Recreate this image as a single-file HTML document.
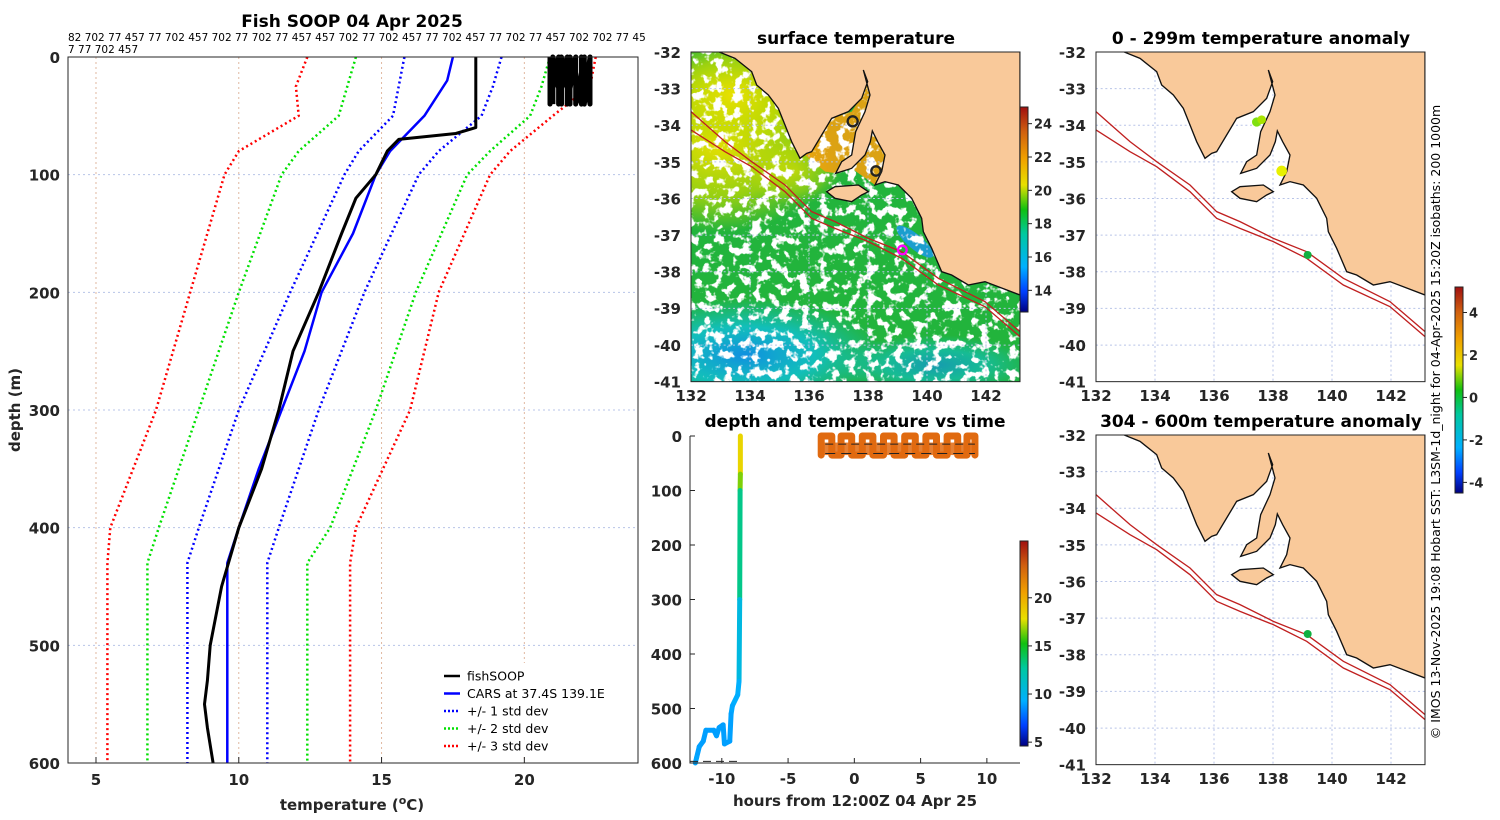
<!DOCTYPE html>
<html><head><meta charset="utf-8"><style>
body{margin:0;background:#fff}
svg{display:block;font-family:"DejaVu Sans","Liberation Sans",sans-serif}
.tk{font-size:15px;font-weight:bold;fill:#262626}
.ttl{font-size:17px;font-weight:bold;fill:#000}
</style></head><body>
<svg id="s" width="1500" height="820" viewBox="0 0 1500 820" xmlns="http://www.w3.org/2000/svg">
<defs>
<linearGradient id="cmap" x1="0" y1="1" x2="0" y2="0">
<stop offset="0" stop-color="#000080"/><stop offset="0.1" stop-color="#0040ff"/><stop offset="0.22" stop-color="#00b0ff"/><stop offset="0.38" stop-color="#00c8a0"/><stop offset="0.5" stop-color="#10c010"/><stop offset="0.62" stop-color="#e8e000"/><stop offset="0.75" stop-color="#f0a000"/><stop offset="0.88" stop-color="#d06010"/><stop offset="1" stop-color="#a01010"/>
</linearGradient>
<radialGradient id="yel" cx="0.5" cy="0.5" r="0.5"><stop offset="0" stop-color="#e8e000"/><stop offset="0.6" stop-color="#c8dc00" stop-opacity="0.7"/><stop offset="1" stop-color="#c8dc00" stop-opacity="0"/></radialGradient>
<radialGradient id="cya" cx="0.5" cy="0.5" r="0.5"><stop offset="0" stop-color="#1090e0"/><stop offset="0.5" stop-color="#10c0c8" stop-opacity="0.9"/><stop offset="1" stop-color="#10c0c8" stop-opacity="0"/></radialGradient>
<filter id="speck" x="0" y="0" width="1" height="1">
<feTurbulence type="fractalNoise" baseFrequency="0.035" numOctaves="3" seed="7" result="n"/>
<feColorMatrix in="n" type="matrix" values="0 0 0 0 1  0 0 0 0 1  0 0 0 0 1  0 10 0 0 -5.3" />
</filter>
<clipPath id="mclip"><rect x="18" y="21" width="987" height="989"/></clipPath>
<path id="land" d="M100,20 L150,40 L200,80 L215,120 L250,150 L280,190 L300,240 L320,290 L345,340 L365,325 L380,320 L410,270 L440,220 L490,200 L530,160 L548,110 L535,75 L555,150 L540,200 L512,260 L500,330 L470,350 L452,385 L500,370 L540,330 L556,290 L562,258 L578,290 L600,330 L590,380 L570,420 L600,410 L640,420 L680,460 L710,520 L715,560 L740,610 L770,680 L800,690 L850,720 L900,710 L1005,750 L1005,20 Z"/>
<path id="ki" d="M425,440 L450,425 L520,420 L550,440 L530,450 L500,470 L450,460 Z"/>
<path id="iso1" d="M18,200 L120,290 L200,350 L300,420 L380,500 L450,530 L550,580 L650,620 L760,700 L900,770 L1005,860"/>
<path id="iso2" d="M18,255 L120,320 L200,365 L300,440 L380,520 L450,550 L550,590 L650,640 L760,720 L900,785 L1005,875"/>
</defs>
<g id="left"></g>
<g id="maps"></g>
<g id="tpanel"></g>
<text x="1440" y="422" transform="rotate(-90 1440 422)" text-anchor="middle" font-size="12.5" fill="#000">© IMOS 13-Nov-2025 19:08 Hobart SST: L3SM-1d_night for 04-Apr-2025 15:20Z isobaths: 200  1000m</text>
</svg>
<script>
// ---------- profile data ----------
const fishDepth=[0,60,65,70,80,100,120,150,200,250,300,350,400,450,500,530,550,570,600];
const fishTemp=[18.3,18.3,17.6,15.6,15.2,14.8,14.1,13.6,12.8,11.9,11.4,10.8,10.0,9.4,9.0,8.9,8.8,8.9,9.1];
const blobDepth=[0,40,0,40,0,40,0,40,0,40,0,40,0,40,0,40,0,40,0,40];
const blobTemp=[20.9,20.9,21.2,21.2,21.5,21.5,21.8,21.8,22.1,22.1,22.3,22.3,22.0,22.0,21.6,21.6,21.3,21.3,21.0,21.0];
const carsDepth=[0,20,50,80,100,150,200,250,300,350,400,430,600];
const carsTemp=[17.5,17.3,16.5,15.3,14.8,14.0,12.9,12.3,11.5,10.7,10.0,9.6,9.6];
const stdDepth=[0,25,50,80,100,200,300,400,430,600];
const s1lo=[15.8,15.6,15.4,14.2,13.7,11.8,10.0,8.6,8.2,8.2];
const s1hi=[19.2,18.9,18.5,17.0,16.3,14.4,12.8,11.4,11.0,11.0];
const s2lo=[14.1,13.8,13.5,12.1,11.5,10.0,8.6,7.2,6.8,6.8];
const s2hi=[20.9,20.6,20.2,18.8,18.0,16.2,14.8,13.2,12.4,12.4];
const s3lo=[12.4,12.0,12.1,10.0,9.5,8.3,7.1,5.5,5.4,5.4];
const s3hi=[22.5,22.3,21.0,19.5,18.8,17.0,16.0,14.1,13.9,13.9];
const tempTicks=[5,10,15,20];
const depthTicks=[0,100,200,300,400,500,600];
const idText1="82 702 77 457 77 702 457 702 77 702 77 457 457 702 77 702 457 77 702 457 77 702 77 457 702 702 77 45";
const idText2="7 77 702 457";
// ---------- time panel data ----------
const tHours=[-8.6,-8.6,-8.62,-8.65,-8.7,-8.8,-9.2,-9.3,-9.4,-9.8,-9.9,-10.2,-10.4,-10.6,-11.2,-11.4,-11.7,-11.9,-12.0];
const tDepth=[0,70,100,300,450,475,495,510,560,565,530,535,550,540,540,560,570,590,600];
const tTemp=[18.3,18.3,14.8,11.4,9.4,9.3,9.2,9.0,8.9,8.9,8.9,8.9,8.9,8.9,8.9,8.9,8.9,9.0,9.1];
const yoyoHours=[-2.5,-2.5,-1.7,-1.7,-1.0,-1.0,-0.2,-0.2,0.6,0.6,1.4,1.4,2.2,2.2,3.0,3.0,3.8,3.8,4.6,4.6,5.4,5.4,6.2,6.2,7.0,7.0,7.8,7.8,8.5,8.5,9.1,9.1];
const yoyoDepth=[35,0,0,35,35,0,0,35,35,0,0,35,35,0,0,35,35,0,0,35,35,0,0,35,35,0,0,35,35,0,0,35];
const hourTicks=[-10,-5,0,5,10];
const sstTicks=[14,16,18,20,22,24];
const tcTicks=[5,10,15,20];
const anTicks=[-4,-2,0,2,4];
const lonTicks=[132,134,136,138,140,142];
const latTicks=[-32,-33,-34,-35,-36,-37,-38,-39,-40,-41];

const NS="http://www.w3.org/2000/svg";
function mk(parent,tag,attrs,txt){const e=document.createElementNS(NS,tag);for(const k in attrs)e.setAttribute(k,attrs[k]);if(txt!==undefined)e.textContent=txt;parent.appendChild(e);return e;}

// ---------- left profile ----------
const L=document.getElementById('left');
const px0=68,px1=638,py0=57,py1=763,tmin=4.02,tmax=23.98;
const X=t=>px0+(t-tmin)/(tmax-tmin)*(px1-px0);
const Y=d=>py0+d/600*(py1-py0);
let e;
e=mk(L,'rect',{x:px0,y:py0,width:px1-px0,height:py1-py0,fill:'#fff',stroke:'none'});


tempTicks.forEach(t=>{e=mk(L,'line',{x1:X(t),x2:X(t),y1:py0,y2:py1,stroke:'#e0b8a0','stroke-width':1,'stroke-dasharray':'2 3'});


e=mk(L,'text',{x:X(t),y:py1+22,'text-anchor':'middle',class:'tk'},t);


mk(L,'line',{x1:X(t),x2:X(t),y1:py1,y2:py1-6,stroke:'#262626'});});
depthTicks.forEach(d=>{if(d>0&&d<600){e=mk(L,'line',{x1:px0,x2:px1,y1:Y(d),y2:Y(d),stroke:'#b8c4e8','stroke-width':1,'stroke-dasharray':'2 3'});

}
e=mk(L,'text',{x:px0-8,y:Y(d)+6,'text-anchor':'end',class:'tk'},d);

});
function line(ts,ds,col,w,dash,name){const pts=ts.map((t,i)=>X(t).toFixed(1)+','+Y(ds[i]).toFixed(1)).join(' ');
const a={points:pts,fill:'none',stroke:col,'stroke-width':w,'stroke-linejoin':'round'};if(dash)a['stroke-dasharray']=dash;
const p=mk(L,'polyline',a);

}
line(s3lo,stdDepth,'#ff0000',2.5,'2 3','std3-low-line');line(s3hi,stdDepth,'#ff0000',2.5,'2 3','std3-high-line');
line(s2lo,stdDepth,'#00e000',2.5,'2 3','std2-low-line');line(s2hi,stdDepth,'#00e000',2.5,'2 3','std2-high-line');
line(s1lo,stdDepth,'#0000ff',2.5,'2 3','std1-low-line');line(s1hi,stdDepth,'#0000ff',2.5,'2 3','std1-high-line');
line(carsTemp,carsDepth,'#0000ff',2.5,null,'cars-line');
line(fishTemp,fishDepth,'#000',3,null,'fishsoop-line');
line(blobTemp,blobDepth,'#000',5,null,'fishsoop-surface-casts');
e=mk(L,'rect',{x:px0,y:py0,width:px1-px0,height:py1-py0,fill:'none',stroke:'#262626','stroke-width':1});


e=mk(L,'text',{x:352,y:27,'text-anchor':'middle',class:'ttl'},'Fish SOOP 04 Apr 2025');


e=mk(L,'text',{x:68,y:41,'font-size':10.5,fill:'#000'},idText1);


e=mk(L,'text',{x:68,y:53,'font-size':10.5,fill:'#000'},idText2);


e=mk(L,'text',{x:20,y:410,transform:'rotate(-90 20 410)','text-anchor':'middle',class:'tk','font-size':16},'depth (m)');


e=mk(L,'text',{x:352,y:810,'text-anchor':'middle',class:'tk','font-size':16});


e.innerHTML='temperature (<tspan dy="-6" font-size="11">o</tspan><tspan dy="6">C)</tspan>';
// legend
const leg=mk(L,'g',{});


mk(leg,'rect',{x:438,y:663,width:188,height:94,fill:'#fff',stroke:'none'});
[['fishSOOP','#000',null],['CARS at 37.4S 139.1E','#0000ff',null],['+/- 1 std dev','#0000ff','2 2'],['+/- 2 std dev','#00e000','2 2'],['+/- 3 std dev','#ff0000','2 2']].forEach((r,i)=>{
 const y=676+i*17.5;const a={x1:444,x2:460,y1:y,y2:y,stroke:r[1],'stroke-width':2.5};if(r[2])a['stroke-dasharray']=r[2];
 const g=mk(leg,'g',{});
 
 
 mk(g,'line',a);mk(g,'text',{x:467,y:y+4.5,'font-size':12.5,fill:'#000'},r[0]);});

// ---------- maps ----------
const M=document.getElementById('maps');
function mapPanel(ox,oy,frameX,frameY,kind,title,name){
 const g=mk(M,'g',{});
 
 
 const inner=mk(g,'g',{transform:`translate(${ox},${oy}) scale(0.33333)`});
 const c=mk(inner,'g',{'clip-path':'url(#mclip)'});
 if(kind==='sst'){
  mk(c,'rect',{x:18,y:21,width:987,height:989,fill:'#22b43c'});
  mk(c,'ellipse',{cx:100,cy:300,rx:360,ry:260,fill:'url(#yel)'});
  mk(c,'ellipse',{cx:140,cy:150,rx:250,ry:180,fill:'url(#yel)'});
  mk(c,'ellipse',{cx:330,cy:380,rx:140,ry:100,fill:'url(#yel)',opacity:0.6});
  mk(c,'ellipse',{cx:180,cy:930,rx:420,ry:170,fill:'url(#cya)'});
  mk(c,'ellipse',{cx:750,cy:960,rx:300,ry:90,fill:'url(#cya)',opacity:0.7});
  mk(c,'ellipse',{cx:690,cy:590,rx:70,ry:22,transform:'rotate(40 690 590)',fill:'#1a9ae8',opacity:0.85});
  mk(c,'path',{d:'M360,330 L440,220 L500,200 L540,140 L535,75 L555,150 L540,200 L520,260 L505,330 L470,350 L455,385 L420,380 Z',fill:'#f0a010',opacity:0.9});
  mk(c,'path',{d:'M500,370 L540,330 L562,258 L580,290 L600,330 L590,380 L570,420 Z',fill:'#f0a010',opacity:0.9});
  mk(c,'rect',{x:18,y:21,width:987,height:989,fill:'#fff',filter:'url(#speck)'});
 }
 latTicks.forEach((la,i)=>{const y=21+i*109.9;if(i>0&&i<9)mk(c,'line',{x1:18,x2:1005,y1:y,y2:y,stroke:'#b8c4e8','stroke-width':3,'stroke-dasharray':'6 8'});});
 lonTicks.forEach((lo,i)=>{const x=18+(lo-132)*88.5;if(i>0)mk(c,'line',{x1:x,x2:x,y1:21,y2:1010,stroke:'#b8c4e8','stroke-width':3,'stroke-dasharray':'6 8'});});
 mk(c,'use',{href:'#land',fill:'#f9c99a',stroke:'#111','stroke-width':4});
 mk(c,'use',{href:'#ki',fill:'#f9c99a',stroke:'#111','stroke-width':4});
 mk(c,'use',{href:'#iso1',fill:'none',stroke:'#c02020','stroke-width':4});
 mk(c,'use',{href:'#iso2',fill:'none',stroke:'#c02020','stroke-width':4});
 if(kind==='sst'){
  mk(c,'circle',{cx:503,cy:229,r:15,fill:'none',stroke:'#222','stroke-width':7});
  mk(c,'circle',{cx:573,cy:378,r:14,fill:'none',stroke:'#222','stroke-width':7});
  mk(c,'circle',{cx:652,cy:615,r:13,fill:'none',stroke:'#ff00ff','stroke-width':7});
 } else if(kind==='a1'){
  mk(c,'circle',{cx:500,cy:231,r:14,fill:'#80e010'});
  mk(c,'circle',{cx:515,cy:224,r:13,fill:'#a8e400'});
  mk(c,'circle',{cx:575,cy:378,r:16,fill:'#e8f000'});
  mk(c,'circle',{cx:653,cy:630,r:12,fill:'#10b040'});
 } else {
  mk(c,'circle',{cx:653,cy:618,r:12,fill:'#10b040'});
 }
 mk(inner,'rect',{x:18,y:21,width:987,height:989,fill:'none',stroke:'#262626','stroke-width':3});
 const fx=frameX,fy=frameY;
 lonTicks.forEach(lo=>{const x=fx+(lo-132)*29.5;
  e=mk(g,'text',{x:x,y:fy+329+20,'text-anchor':'middle',class:'tk'},lo);
  
  });
 latTicks.forEach((la,i)=>{
  e=mk(g,'text',{x:fx-10,y:fy+i*36.6+6,'text-anchor':'end',class:'tk'},la);
  
  });
 e=mk(g,'text',{x:fx+165,y:fy-8,'text-anchor':'middle',class:'ttl'},title);
 
 
}
mapPanel(685,45,691,52,'sst','surface temperature','sst-map');
mapPanel(1090,45,1096,52,'a1','0 - 299m temperature anomaly','anomaly-map-shallow');
mapPanel(1090,428,1096,435,'a2','304 - 600m temperature anomaly','anomaly-map-deep');

function cbar(x,y,h,ticks,vmin,vmax,name){
 const g=mk(M,'g',{});
 
 
 mk(g,'rect',{x:x,y:y,width:8,height:h,fill:'url(#cmap)',stroke:'#222','stroke-width':1});
 ticks.forEach(t=>{const yy=y+h-(t-vmin)/(vmax-vmin)*h;mk(g,'line',{x1:x+8,x2:x+12,y1:yy,y2:yy,stroke:'#222'});
  e=mk(g,'text',{x:x+14,y:yy+5,'font-size':13,'font-weight':'bold',fill:'#262626'},t);
  
  });
}
cbar(1020,107,205,sstTicks,12.7,25.0,'sst-colorbar');
cbar(1455,287,206,anTicks,-4.5,5.2,'anomaly-colorbar');
cbar(1020,541,205,tcTicks,4.6,25.9,'time-temp-colorbar');

// ---------- time panel ----------
const T=document.getElementById('tpanel');
const tx0=690,tx1=1020,ty0=436,ty1=763,hmin=-12.4,hmax=12.5;
const HX=h=>tx0+(h-hmin)/(hmax-hmin)*(tx1-tx0);
const DY=d=>ty0+d/600*(ty1-ty0);
const stops=[[0,[0,0,128]],[0.1,[0,64,255]],[0.22,[0,176,255]],[0.38,[0,200,160]],[0.5,[16,192,16]],[0.62,[232,224,0]],[0.75,[240,160,0]],[0.88,[208,96,16]],[1,[160,16,16]]];
function cm(t){let f=(t-4.6)/(25.9-4.6);f=Math.max(0,Math.min(1,f));for(let i=1;i<stops.length;i++){if(f<=stops[i][0]){const a=stops[i-1],b=stops[i],u=(f-a[0])/(b[0]-a[0]);return 'rgb('+a[1].map((v,k)=>Math.round(v+(b[1][k]-v)*u)).join(',')+')';}}return 'rgb(160,16,16)';}
for(let i=0;i<tHours.length-1;i++){
 e=mk(T,'line',{x1:HX(tHours[i]),y1:DY(tDepth[i]),x2:HX(tHours[i+1]),y2:DY(tDepth[i+1]),stroke:cm((tTemp[i]+tTemp[i+1])/2),'stroke-width':5,'stroke-linecap':'round'});
 
 
}
e=mk(T,'polyline',{points:yoyoHours.map((h,i)=>HX(h)+','+DY(yoyoDepth[i])).join(' '),fill:'none',stroke:'#e06a10','stroke-width':7,'stroke-linejoin':'round','stroke-linecap':'round'});


e=mk(T,'rect',{x:HX(yoyoHours[0]),y:DY(12),width:HX(yoyoHours[yoyoHours.length-1])-HX(yoyoHours[0]),height:DY(35)-DY(12),fill:'#e06a10',opacity:0.85});


mk(T,'line',{x1:HX(yoyoHours[0])+4,x2:HX(yoyoHours[yoyoHours.length-1]),y1:DY(15),y2:DY(15),stroke:'#222','stroke-dasharray':'8 5'});
mk(T,'line',{x1:HX(yoyoHours[0])+4,x2:HX(yoyoHours[yoyoHours.length-1]),y1:DY(32),y2:DY(32),stroke:'#222','stroke-dasharray':'10 6'});
mk(T,'line',{x1:HX(-12.4),x2:HX(-8.6),y1:DY(597),y2:DY(597),stroke:'#222','stroke-dasharray':'8 5'});
mk(T,'polyline',{points:`${tx0},${ty0} ${tx0},${ty1} ${tx1},${ty1}`,fill:'none',stroke:'#262626'});
hourTicks.forEach(h=>{mk(T,'line',{x1:HX(h),x2:HX(h),y1:ty1,y2:ty1-5,stroke:'#262626'});
 e=mk(T,'text',{x:HX(h),y:ty1+21,'text-anchor':'middle',class:'tk'},h);
 
 });
depthTicks.forEach(d=>{mk(T,'line',{x1:tx0,x2:tx0+5,y1:DY(d),y2:DY(d),stroke:'#262626'});
 e=mk(T,'text',{x:tx0-8,y:DY(d)+6,'text-anchor':'end',class:'tk'},d);
 
 });
e=mk(T,'text',{x:855,y:427,'text-anchor':'middle',class:'ttl'},'depth and temperature vs time');


e=mk(T,'text',{x:855,y:806,'text-anchor':'middle',class:'tk','font-size':16},'hours from 12:00Z 04 Apr 25');


</script>
</body></html>
